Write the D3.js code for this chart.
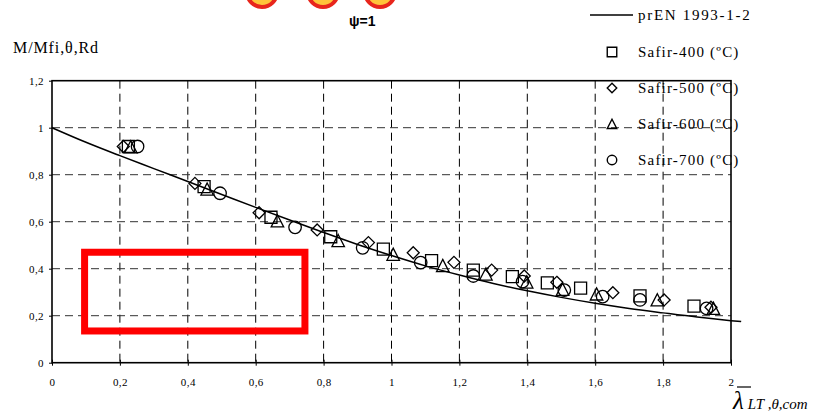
<!DOCTYPE html>
<html>
<head>
<meta charset="utf-8">
<script src="https://cdn.jsdelivr.net/npm/d3@7/dist/d3.min.js"></script>
<style>
  html, body { margin: 0; padding: 0; background: #fff; }
  svg { display: block; }
  svg text { font-family: "Liberation Serif", "DejaVu Serif", serif; fill: #000; }
</style>
</head>
<body>
<svg id="chart" width="814" height="419"></svg>
<script>
// Design curve (prEN 1993-1-2) sampled along the slenderness axis
const curveLambda = [0, 0.1, 0.2, 0.3, 0.4, 0.5, 0.6, 0.7, 0.8, 0.9, 1.0, 1.1, 1.2, 1.3, 1.4, 1.5, 1.6, 1.7, 1.8, 1.9, 2.0, 2.03];
const curveRatio  = [1.0, 0.938, 0.881, 0.826, 0.771, 0.716, 0.661, 0.607, 0.554, 0.503, 0.456, 0.412, 0.373, 0.337, 0.306, 0.278, 0.253, 0.231, 0.212, 0.194, 0.179, 0.175];

// SAFIR results, one pair of arrays per temperature
const safir400Lambda = [0.225, 0.448, 0.645, 0.821, 0.976, 1.118, 1.241, 1.356, 1.459, 1.557, 1.732, 1.891];
const safir400Ratio  = [0.920, 0.749, 0.619, 0.536, 0.483, 0.434, 0.394, 0.366, 0.340, 0.317, 0.284, 0.241];

const safir500Lambda = [0.210, 0.421, 0.610, 0.781, 0.932, 1.064, 1.184, 1.295, 1.391, 1.487, 1.652, 1.803, 1.941];
const safir500Ratio  = [0.920, 0.763, 0.638, 0.565, 0.511, 0.468, 0.427, 0.394, 0.369, 0.342, 0.298, 0.267, 0.236];

const safir600Lambda = [0.232, 0.457, 0.664, 0.843, 1.005, 1.151, 1.278, 1.398, 1.504, 1.604, 1.783, 1.948];
const safir600Ratio  = [0.918, 0.738, 0.603, 0.519, 0.461, 0.413, 0.377, 0.343, 0.312, 0.292, 0.267, 0.231];

const safir700Lambda = [0.252, 0.495, 0.716, 0.915, 1.086, 1.241, 1.386, 1.509, 1.622, 1.732, 1.928];
const safir700Ratio  = [0.920, 0.721, 0.576, 0.489, 0.426, 0.369, 0.345, 0.309, 0.281, 0.267, 0.231];

const xTicks = [0, 0.2, 0.4, 0.6, 0.8, 1, 1.2, 1.4, 1.6, 1.8, 2];
const xTickLabels = ["0", "0,2", "0,4", "0,6", "0,8", "1", "1,2", "1,4", "1,6", "1,8", "2"];
const yTicks = [0, 0.2, 0.4, 0.6, 0.8, 1, 1.2];
const yTickLabels = ["0", "0,2", "0,4", "0,6", "0,8", "1", "1,2"];

const seriesNames = ["Safir-400 (ºC)", "Safir-500 (ºC)", "Safir-600 (ºC)", "Safir-700 (ºC)"];

const SERIF = "'Liberation Serif', 'DejaVu Serif', serif";
const svg = d3.select("#chart");

const x = d3.scaleLinear().domain([0, 2]).range([52, 731]);
const y = d3.scaleLinear().domain([0, 1.2]).range([362.7, 80.7]);

// Marker shapes: square, diamond (rotated square), triangle, circle; w = overall width
function markerPath(kind, w) {
  const h = w / 2;
  if (kind === 0) return `M${-h},${-h}H${h}V${h}H${-h}Z`;
  if (kind === 1) return `M0,${-h}L${h},0L0,${h}L${-h},0Z`;
  if (kind === 2) return `M0,${-h}L${h},${h * 0.95}H${-h}Z`;
  return `M${h},0A${h},${h} 0 1,1 ${-h},0A${h},${h} 0 1,1 ${h},0Z`;
}
const markerWidth = [12, 12, 12.5, 12.5];

// Header decorations: three section icons and the moment ratio label
const iconX = [262, 323, 380];
svg.selectAll("circle.icon").data(iconX).join("circle")
  .attr("class", "icon")
  .attr("cx", d => d).attr("cy", -8).attr("r", 15)
  .attr("fill", "#ffc43a").attr("stroke", "#e8261c").attr("stroke-width", 4);
svg.append("text")
  .attr("x", 349).attr("y", 26)
  .style("font-family", "'Liberation Sans', Arial, sans-serif")
  .style("font-weight", "bold").style("font-size", "14px")
  .text("ψ=1");

// Dashed grid
const grid = svg.append("g").attr("stroke", "#000").attr("stroke-width", 1).attr("stroke-dasharray", "8,5");
grid.selectAll("line.v").data(xTicks.slice(1, -1)).join("line")
  .attr("x1", d => x(d)).attr("x2", d => x(d))
  .attr("y1", y(1.2)).attr("y2", y(0));
grid.selectAll("line.h").data(yTicks.slice(1, -1)).join("line")
  .attr("stroke", "#333")
  .attr("x1", x(0)).attr("x2", x(2))
  .attr("y1", d => y(d)).attr("y2", d => y(d));

// Axes with comma decimal labels
const xAxis = d3.axisBottom(x).tickValues(xTicks).tickSize(3)
  .tickFormat((d, i) => xTickLabels[i]);
const gx = svg.append("g").attr("transform", `translate(0,${y(0)})`).call(xAxis)
  .attr("font-family", SERIF).attr("font-size", 11);
gx.select(".domain").remove();
gx.selectAll(".tick line").attr("stroke", "#000").attr("y1", -3);
gx.selectAll(".tick text").attr("dy", 0).attr("y", 23).attr("fill", "#333")
  .style("letter-spacing", "0.4px");

const yAxis = d3.axisLeft(y).tickValues(yTicks).tickSize(3)
  .tickFormat((d, i) => yTickLabels[i]);
const gy = svg.append("g").attr("transform", `translate(${x(0)},0)`).call(yAxis)
  .attr("font-family", SERIF).attr("font-size", 11);
gy.select(".domain").remove();
gy.selectAll(".tick line").attr("stroke", "#000");
gy.selectAll(".tick text").attr("x", -8).attr("fill", "#333")
  .style("letter-spacing", "0.4px");

// Plot frame
svg.append("rect")
  .attr("x", x(0)).attr("y", y(1.2))
  .attr("width", x(2) - x(0)).attr("height", y(0) - y(1.2))
  .attr("fill", "none").attr("stroke", "#000").attr("stroke-width", 1.6);

// Design curve
const line = d3.line().x(d => x(d[0])).y(d => y(d[1])).curve(d3.curveMonotoneX);
svg.append("path")
  .datum(curveLambda.map((l, i) => [l, curveRatio[i]]))
  .attr("d", line)
  .attr("fill", "none").attr("stroke", "#000").attr("stroke-width", 1.5);

// SAFIR markers
const seriesData = [
  [safir400Lambda, safir400Ratio],
  [safir500Lambda, safir500Ratio],
  [safir600Lambda, safir600Ratio],
  [safir700Lambda, safir700Ratio]
];
seriesData.forEach(([lx, ly], s) => {
  svg.append("g").selectAll("path").data(lx.map((l, i) => [l, ly[i]])).join("path")
    .attr("transform", d => `translate(${x(d[0])},${y(d[1])})`)
    .attr("d", markerPath(s, markerWidth[s]))
    .attr("fill", "none").attr("stroke", "#000").attr("stroke-width", 1.3);
});

// Highlight frame
svg.append("rect")
  .attr("x", x(0.096)).attr("y", y(0.47))
  .attr("width", x(0.745) - x(0.096)).attr("height", y(0.135) - y(0.47))
  .attr("fill", "none").attr("stroke", "#ff0000").attr("stroke-width", 7);

// Axis titles
svg.append("text").attr("x", 13).attr("y", 53)
  .style("font-family", SERIF).style("font-size", "16px").style("letter-spacing", "0.9px")
  .text("M/Mfi,θ,Rd");

const xt = svg.append("g");
xt.append("line").attr("x1", 737).attr("x2", 751).attr("y1", 387).attr("y2", 387)
  .attr("stroke", "#000").attr("stroke-width", 1.2);
const xtText = xt.append("text").attr("x", 733).attr("y", 409)
  .style("font-family", SERIF).style("font-style", "italic");
xtText.append("tspan").style("font-size", "25px").text("λ");
xtText.append("tspan").style("font-size", "15px").attr("dx", 4).text("LT ,θ,com");

// Legend
const lg = svg.append("g");
lg.append("line").attr("x1", 590).attr("x2", 633).attr("y1", 15).attr("y2", 15)
  .attr("stroke", "#000").attr("stroke-width", 1.3);
lg.append("text").attr("x", 638).attr("y", 20)
  .style("font-family", SERIF).style("font-size", "15px").style("letter-spacing", "1.7px")
  .text("prEN 1993-1-2");
const legendY = [52, 88, 124, 160];
seriesNames.forEach((name, s) => {
  lg.append("path")
    .attr("transform", `translate(612,${legendY[s]})`)
    .attr("d", markerPath(s, 9.5))
    .attr("fill", "none").attr("stroke", "#000").attr("stroke-width", 1.4);
  lg.append("text").attr("x", 638).attr("y", legendY[s] + 5)
    .style("font-family", SERIF).style("font-size", "15px").style("letter-spacing", "1.2px")
    .text(name);
});
</script>
</body>
</html>
